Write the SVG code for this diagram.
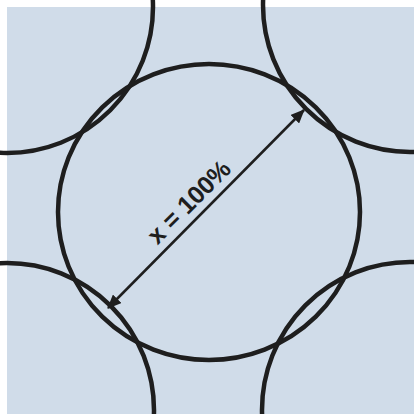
<svg xmlns="http://www.w3.org/2000/svg" width="414" height="414" viewBox="0 0 414 414">
<defs>
<style>
.c{fill:none;stroke:#1e1e1e;stroke-width:4.5}
.a{stroke:#1e1e1e;stroke-width:2.5;fill:none}
.t{font-family:"Liberation Sans",Arial,sans-serif;font-weight:bold;font-size:25px;fill:#1e1e1e}
</style>
<marker id="ah" viewBox="0 0 14 12" refX="13" refY="6" markerWidth="14" markerHeight="12" markerUnits="userSpaceOnUse" orient="auto-start-reverse">
<path d="M0,0 L14,6 L0,12 Z" fill="#1e1e1e"/>
</marker>
</defs>
<rect x="0" y="0" width="414" height="414" fill="#ffffff"/>
<rect x="7" y="7" width="407" height="407" fill="#d0dce9"/>
<g id="circles">
<ellipse id="center" class="c" cx="209" cy="212" rx="151" ry="148"/>
<circle id="tl" class="c" cx="7" cy="7" r="146"/>
<circle id="tr" class="c" cx="410" cy="5" r="147"/>
<circle id="bl" class="c" cx="7" cy="410" r="147"/>
<circle id="br" class="c" cx="410" cy="410" r="148"/>
</g>
<g id="connectors">
<line class="a" x1="108" y1="308" x2="304" y2="110" marker-start="url(#ah)" marker-end="url(#ah)"/>
</g>
<g id="label">
<text class="t" text-anchor="middle" transform="translate(195,208) rotate(-45)">x = 100%</text>
</g>
</svg>
